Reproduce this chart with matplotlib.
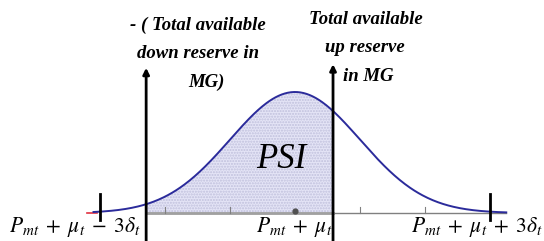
import numpy as np
import matplotlib
matplotlib.use("Agg")
import matplotlib.pyplot as plt

# Data (in units of standard deviation around the mean)
mean = 0.0
sigma = 1.0
curve_range = [-3.1, 3.25]
bound_ticks = [-3.0, 3.0]
minor_ticks = [-2.0, -1.0, 1.0, 2.0]
down_reserve = -2.29
up_reserve = 0.585
tick_labels = [r"$P_{mt}\;+\;\mu_t\;-\;3\delta_t$", r"$P_{mt}\;+\;\mu_t$", r"$P_{mt}\;+\;\mu_t\;+\;3\delta_t$"]
tick_label_pos = [-3.0, 0.0, 3.0]

plt.rcParams['mathtext.fontset'] = 'stix'

fig = plt.figure(figsize=(5.44, 2.41), dpi=100)
ax = fig.add_axes([0, 0, 1, 1])
px0, spx = 295.0, 65.0
ax.set_xlim(-px0 / spx, (544 - px0) / spx)
ax.set_ylim(-(241 - 213) / 121, 213 / 121)
ax.axis('off')

def pdf(z):
    return np.exp(-0.5 * ((z - mean) / sigma) ** 2)

z = np.linspace(curve_range[0], curve_range[1], 400)
# baseline
ax.plot([down_reserve, curve_range[1]], [0, 0], color='#808080', lw=1.0, zorder=2)
ax.plot([down_reserve, up_reserve], [0, 0], color='#a0a0a0', lw=2.0, zorder=2)
ax.plot([curve_range[0] - 0.1, curve_range[0] + 0.05], [0, 0], color='#e03040', lw=1.2, zorder=3)
for t in minor_ticks:
    ax.plot([t, t], [0, 0.05], color='#808080', lw=0.8, zorder=2)

# shaded PSI region
zs = np.linspace(down_reserve, up_reserve, 300)
ax.fill_between(zs, 0, pdf(zs), facecolor='#e4e4f6', edgecolor='#c0c0dc', hatch='......', lw=0, zorder=1)

ax.plot(z, pdf(z), color='#2b2b9b', lw=1.4, zorder=4)

for t in bound_ticks:
    ax.plot([t, t], [-0.06, 0.16], color='black', lw=2.0, zorder=5)

ax.plot([mean], [0.02], 'o', color='#505050', ms=3.5, zorder=5)

# arrows
for xr, top in [(down_reserve, 1.20), (up_reserve, 1.23)]:
    ax.annotate('', xy=(xr, top), xytext=(xr, -0.25),
                arrowprops=dict(arrowstyle='-|>', color='black', lw=2.0,
                                mutation_scale=9, shrinkA=0, shrinkB=0), zorder=6)

ax.text((281 - px0) / spx, (213 - 160) / 121, 'PSI', fontsize=25, style='italic', family='Liberation Serif',
        ha='center', va='center', zorder=7)

tfont = dict(family='Liberation Serif', style='italic', weight='bold', fontsize=13.5)
ax.text((198 - px0) / spx, (213 - 25) / 121, '- ( Total available', ha='center', va='center', **tfont)
ax.text((198 - px0) / spx, (213 - 54) / 121, 'down reserve in', ha='center', va='center', **tfont)
ax.text((206 - px0) / spx, (213 - 82) / 121, 'MG)', ha='center', va='center', **tfont)
ax.text((366 - px0) / spx, (213 - 20) / 121, 'Total available', ha='center', va='center', **tfont)
ax.text((365 - px0) / spx, (213 - 48) / 121, 'up reserve', ha='center', va='center', **tfont)
ax.text((368 - px0) / spx, (213 - 77) / 121, 'in MG', ha='center', va='center', **tfont)

label_px = [75, 294, 477]
for lab, lp in zip(tick_labels, label_px):
    ax.text((lp - px0) / spx, -(227 - 213) / 121, lab, fontsize=15.5, ha='center', va='center')

fig.savefig('out.png', dpi=100)
